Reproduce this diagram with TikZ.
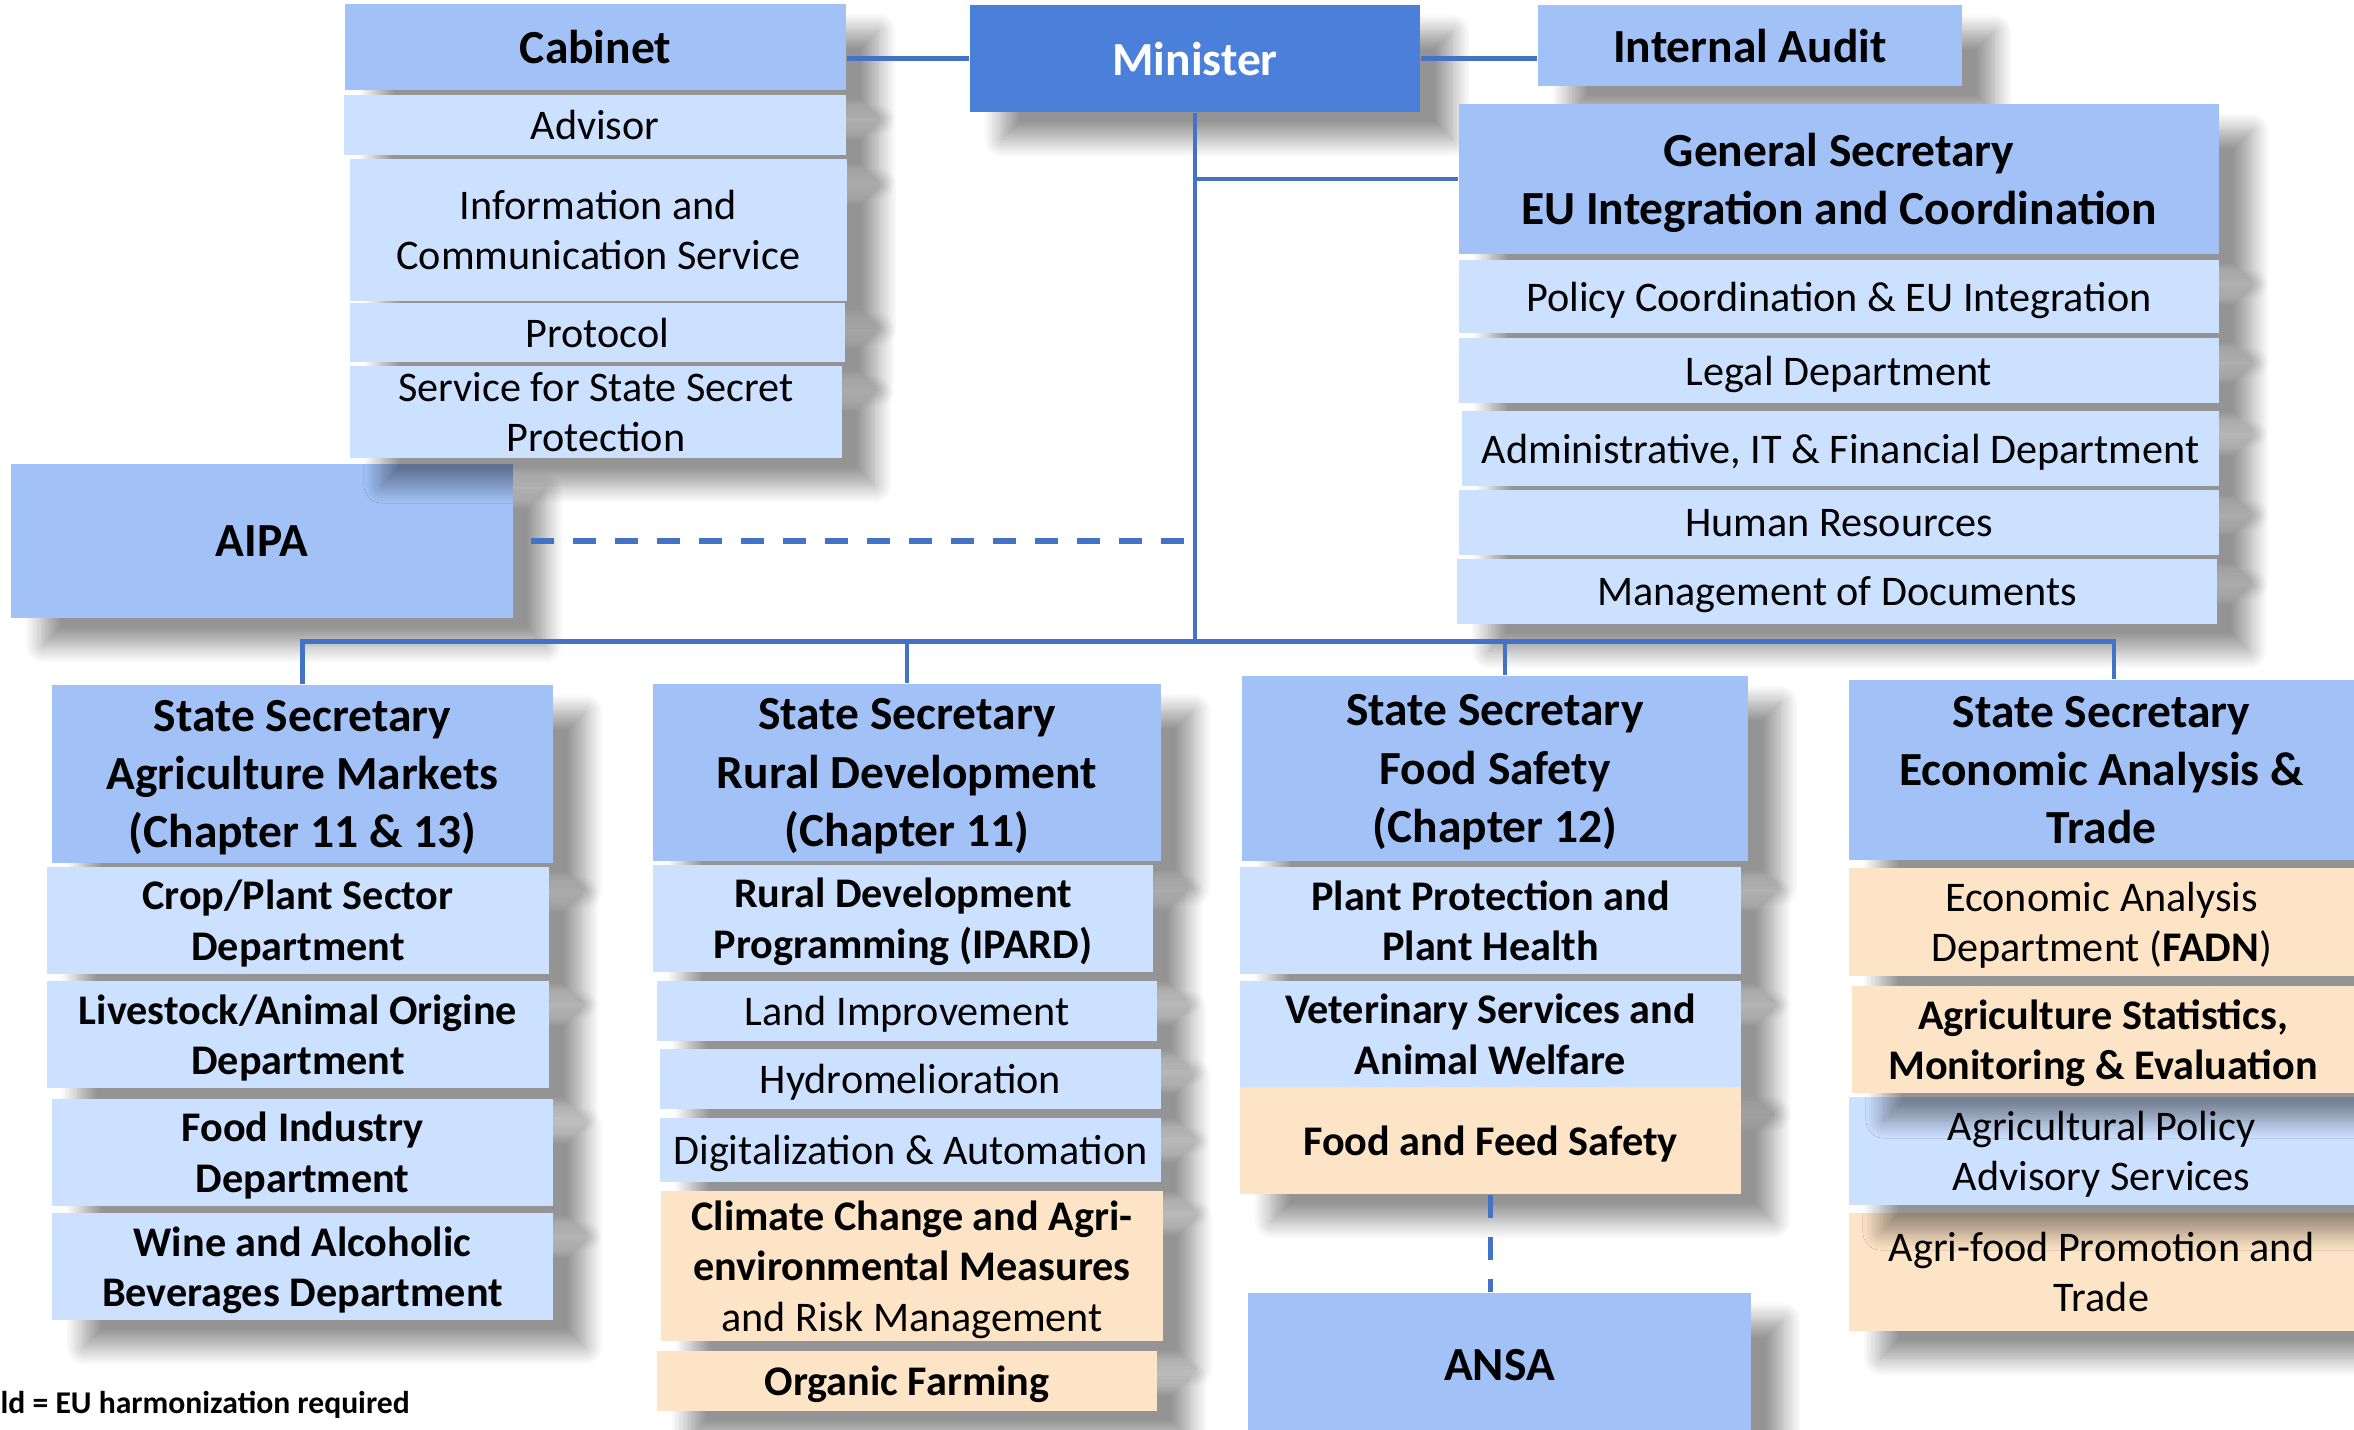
\documentclass[tikz,border=0pt]{standalone}
\usepackage{fontspec}
\setmainfont{Carlito}
\usetikzlibrary{shadows.blur}
\definecolor{headblue}{HTML}{A1C1F7}
\definecolor{unitblue}{HTML}{CCE0FF}
\definecolor{harmorange}{HTML}{FDE4C6}
\definecolor{ministerblue}{HTML}{4A7FDA}
\definecolor{linkblue}{HTML}{4472C4}
\tikzstyle{boxshadow} = [blur shadow={shadow xshift=0.32cm, shadow yshift=-0.27cm, shadow blur radius=0.18cm, shadow blur steps=14, shadow opacity=42}]
\tikzstyle{head} = [rectangle, inner sep=0pt, align=center, text depth=-1pt, fill=headblue, boxshadow, font=\bfseries\fontsize{13.5}{16.6}\selectfont]
\tikzstyle{unit} = [rectangle, inner sep=0pt, align=center, text depth=-1pt, fill=unitblue, boxshadow, font=\fontsize{12}{14.4}\selectfont]
\tikzstyle{unitbold} = [unit, font=\bfseries\fontsize{12}{14.4}\selectfont]
\tikzstyle{harm} = [unit, fill=harmorange]
\tikzstyle{harmbold} = [unitbold, fill=harmorange]
\tikzstyle{link} = [draw=linkblue, line width=1.3pt]
\tikzstyle{dashlink} = [link, line width=1.5pt, dash pattern=on 0.23cm off 0.19cm]

\begin{document}
\begin{tikzpicture}[x=0.01cm, y=-0.01cm]
\useasboundingbox (0,0) rectangle (2354,1430);

% top level
\node (minister) [head, fill=ministerblue, text=white, minimum width=4.50cm, minimum height=1.07cm] at (1195,58.5) {Minister};
\node (audit) [head, minimum width=4.24cm, minimum height=0.81cm] at (1750,45.5) {Internal Audit};

% cabinet column
\node (aipa) [head, minimum width=5.02cm, minimum height=1.54cm] at (262,541) {AIPA};
\node (cabinet) [head, minimum width=5.01cm, minimum height=0.86cm] at (595.5,47) {Cabinet};
\node (advisor) [unit, minimum width=5.02cm, minimum height=0.60cm] at (595,125) {Advisor};
\node (infocom) [unit, minimum width=4.97cm, minimum height=1.42cm] at (598.5,230) {Information and\\Communication Service};
\node (protocol) [unit, minimum width=4.95cm, minimum height=0.59cm] at (597.5,332.5) {Protocol};
\node (secret) [unit, minimum width=4.92cm, minimum height=0.92cm] at (596,412) {Service for State Secret\\Protection};

% general secretary
\node (gensec) [head, minimum width=7.60cm, minimum height=1.50cm] at (1839,179) {General Secretary\\EU Integration and Coordination};
\node (policy) [unit, minimum width=7.60cm, minimum height=0.73cm] at (1839,296.5) {Policy Coordination \& EU Integration};
\node (legal) [unit, minimum width=7.60cm, minimum height=0.65cm] at (1839,370.5) {Legal Department};
\node (admin) [unit, minimum width=7.57cm, minimum height=0.75cm] at (1840.5,448.5) {Administrative, IT \& Financial Department};
\node (hr) [unit, minimum width=7.60cm, minimum height=0.65cm] at (1839,522.5) {Human Resources};
\node (docs) [unit, minimum width=7.60cm, minimum height=0.65cm] at (1837,591.5) {Management of Documents};

% agriculture markets
\node (ssmarkets) [head, minimum width=5.01cm, minimum height=1.78cm] at (302.5,774) {State Secretary\\Agriculture Markets\\(Chapter 11 \& 13)};
\node (crop) [unitbold, minimum width=5.02cm, minimum height=1.07cm] at (298,920.5) {Crop/Plant Sector\\Department};
\node (livestock) [unitbold, minimum width=5.02cm, minimum height=1.07cm] at (298,1034.5) {Livestock/Animal Origine\\Department};
\node (foodind) [unitbold, minimum width=5.01cm, minimum height=1.07cm] at (302.5,1152.5) {Food Industry\\Department};
\node (wine) [unitbold, minimum width=5.01cm, minimum height=1.07cm] at (302.5,1266.5) {Wine and Alcoholic\\Beverages Department};

% rural development
\node (ssrural) [head, minimum width=5.08cm, minimum height=1.77cm] at (907,772.5) {State Secretary\\Rural Development\\(Chapter 11)};
\node (ipard) [unitbold, minimum width=5.00cm, minimum height=1.07cm] at (903,918.5) {Rural Development\\Programming (IPARD)};
\node (land) [unit, minimum width=5.00cm, minimum height=0.60cm] at (907,1011) {Land Improvement};
\node (hydro) [unit, minimum width=5.01cm, minimum height=0.60cm] at (910.5,1079) {Hydromelioration};
\node (digital) [unit, minimum width=5.01cm, minimum height=0.64cm] at (910.5,1150) {Digitalization \& Automation};
\node (climate) [harm, minimum width=5.02cm, minimum height=1.50cm] at (912,1266) {\textbf{Climate Change and Agri-}\\\textbf{environmental Measures}\\and Risk Management};
\node (organic) [harmbold, minimum width=5.00cm, minimum height=0.60cm] at (907,1381) {Organic Farming};

% food safety
\node (ssfood) [head, minimum width=5.06cm, minimum height=1.85cm] at (1495,768.5) {State Secretary\\Food Safety\\(Chapter 12)};
\node (plantprot) [unitbold, minimum width=5.01cm, minimum height=1.07cm] at (1490.5,920.5) {Plant Protection and\\Plant Health};
\node (vet) [unitbold, minimum width=5.01cm, minimum height=1.06cm] at (1490.5,1034) {Veterinary Services and\\Animal Welfare};
\node (feed) [harmbold, minimum width=5.01cm, minimum height=1.07cm] at (1490.5,1140.5) {Food and Feed Safety};
\node (ansa) [head, minimum width=5.03cm, minimum height=1.44cm] at (1499.5,1365) {ANSA};

% economic analysis
\node (sstrade) [head, minimum width=5.05cm, minimum height=1.80cm] at (2101.5,770) {State Secretary\\Economic Analysis \&\\Trade};
\node (econ) [harm, minimum width=5.05cm, minimum height=1.08cm] at (2101.5,922) {Economic Analysis\\Department (\textbf{FADN})};
\node (agrifood) [harm, minimum width=5.05cm, minimum height=1.18cm] at (2101.5,1272) {Agri-food Promotion and\\Trade};
\node (advisory) [unit, minimum width=5.05cm, minimum height=1.08cm] at (2101.5,1151) {Agricultural Policy\\Advisory Services};
\node (stats) [harmbold, minimum width=5.02cm, minimum height=1.07cm] at (2103,1039.5) {Agriculture Statistics,\\Monitoring \& Evaluation};

\node (legend) [anchor=west, inner sep=0pt, font=\bfseries\fontsize{9}{11}\selectfont] at (0,1405) {ld = EU harmonization required};

% connectors
\coordinate (hub) at (1195,641.5);
\coordinate (dropfood) at ([xshift=0.1cm]ssfood.north);
\coordinate (droptrade) at ([xshift=0.125cm]sstrade.north);
\draw [link] (minister.west) -- (cabinet.east |- minister.west);
\draw [link] (minister.east) -- (audit.west |- minister.east);
\draw [link] (minister.south) -- (hub);
\draw [link] (minister.south |- gensec.west) -- (gensec.west);
\draw [dashlink] ([xshift=0.17cm]aipa.east) -- ([xshift=-0.1cm]hub |- aipa.east);
\draw [link] (ssmarkets.north) -- (ssmarkets.north |- hub) -- (droptrade |- hub) -- (droptrade);
\draw [link] (ssrural.north) -- (ssrural.north |- hub);
\draw [link] (dropfood) -- (dropfood |- hub);
\draw [dashlink] (feed.south) -- (feed.south |- ansa.north);

\end{tikzpicture}
\end{document}
